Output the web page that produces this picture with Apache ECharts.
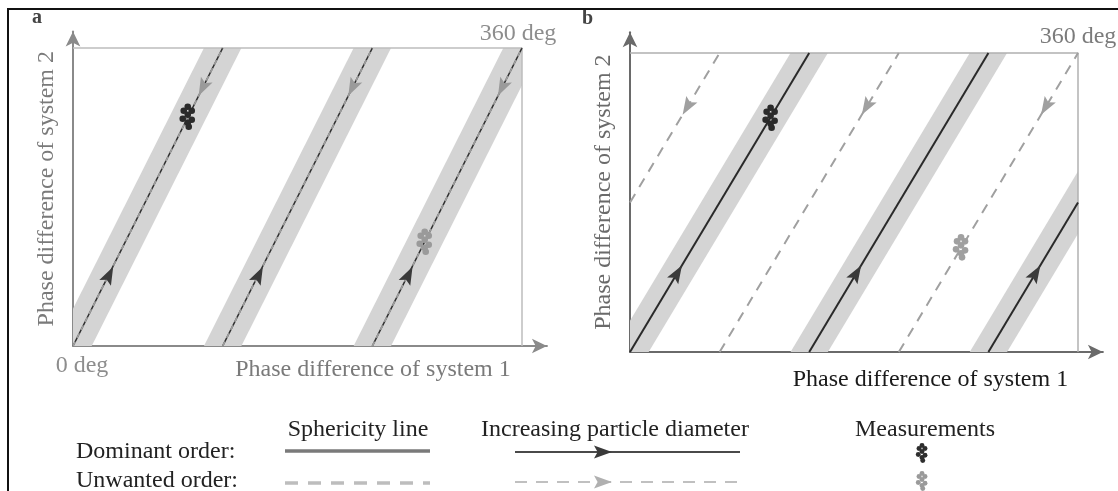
<!DOCTYPE html>
<html>
<head>
<meta charset="utf-8">
<title>Phase difference diagrams</title>
<script src="https://cdn.jsdelivr.net/npm/echarts@6.0.0/dist/echarts.min.js"></script>
<style>
  html, body { margin: 0; padding: 0; background: #ffffff; }
  #main { width: 1118px; height: 491px; }
</style>
</head>
<body>
<div id="main"></div>
<script>
// ---- data (phase differences in degrees) ----
// Panel a: dominant and unwanted orders run along the same sphericity lines
const aDominant = [[[0, 0], [120, 360]], [[120, 0], [240, 360]], [[240, 0], [360, 360]]];
const aUnwanted = [[[0, 0], [120, 360]], [[120, 0], [240, 360]], [[240, 0], [360, 360]]];
const aUpArrows = [[29, 86, 0], [149, 86, 1], [269, 86, 2]];      // x, y, line index
const aDownArrows = [[104, 312, 0], [224, 312, 1], [344, 312, 2]];
const aMeasDominant = [[92, 277]];
const aMeasUnwanted = [[282, 126]];

// Panel b: unwanted order shifted by half a period
const bDominant = [[[0, 0], [144, 360]], [[144, 0], [288, 360]], [[288, 0], [360, 180]]];
const bUnwanted = [[[0, 180], [72, 360]], [[72, 0], [216, 360]], [[216, 0], [360, 360]]];
const bUpArrows = [[38, 95, 0], [182, 95, 1], [326, 95, 2]];
const bDownArrows = [[46, 295, 0], [190, 295, 1], [334, 295, 2]];
const bMeasDominant = [[113, 282]];
const bMeasUnwanted = [[266, 126]];

const boxEdge = [[0, 360], [360, 360], [360, 0]];
const aTickLabels = [[0, 0, '0 deg'], [360, 360, '360 deg']];
const bTickLabels = [[360, 360, '360 deg']];

const panelNames = ['a', 'b'];
const xTitle = 'Phase difference of system 1';
const yTitle = 'Phase difference of system 2';
const legendRows = ['Dominant order:', 'Unwanted order:'];
const legendHeads = ['Sphericity line', 'Increasing particle diameter', 'Measurements'];

// ---- styling ----
const FONT = "'Liberation Serif', 'DejaVu Serif', serif";
const BAND = '#d4d4d4';
const BAND_HALF = 15;          // half width of the grey band, degrees along x
const CLUSTER = [[0, -10], [-4, -6], [4, -6], [0, -2], [-5, 2], [4, 3], [0, 6], [1, 10]];

// pixel box of each 0..360 panel
const boxA = { left: 73, bottom: 346, width: 449, height: 298 };
const boxB = { left: 630, bottom: 352, width: 448, height: 299 };
const axisMaxA = [380, 380];
const axisMaxB = [380, 385];

function gridFor(box, max) {
  return {
    left: box.left,
    top: box.bottom - box.height * max[1] / 360,
    width: box.width * max[0] / 360,
    height: box.height * max[1] / 360,
    containLabel: false
  };
}

function clipPoly(pts, r) {
  const planes = [[0, r.x0, 1], [0, r.x1, -1], [1, r.y0, 1], [1, r.y1, -1]];
  let out = pts;
  for (const [ax, v, s] of planes) {
    const inp = out; out = [];
    for (let i = 0; i < inp.length; i++) {
      const a = inp[i], b = inp[(i + 1) % inp.length];
      const ia = s * (a[ax] - v) >= 0, ib = s * (b[ax] - v) >= 0;
      if (ia) out.push(a);
      if (ia !== ib) {
        const t = (v - a[ax]) / (b[ax] - a[ax]);
        out.push([a[0] + t * (b[0] - a[0]), a[1] + t * (b[1] - a[1])]);
      }
    }
    if (!out.length) break;
  }
  return out;
}

function boxRect(api) {
  const p0 = api.coord([0, 360]), p1 = api.coord([360, 0]);
  return { x0: p0[0], y0: p0[1], x1: p1[0], y1: p1[1] };
}

// grey tolerance band around each dominant sphericity line
function bandSeries(gi, segs) {
  return {
    type: 'custom', xAxisIndex: gi, yAxisIndex: gi, z: 1, silent: true,
    data: segs.map(s => [s[0][0], s[0][1], s[1][0], s[1][1]]),
    encode: { x: [0, 2], y: [1, 3] },
    renderItem(params, api) {
      const x0 = api.value(0), y0 = api.value(1), x1 = api.value(2), y1 = api.value(3);
      const ex = (x1 - x0) * 0.4, ey = (y1 - y0) * 0.4;
      const a = [x0 - ex, y0 - ey], b = [x1 + ex, y1 + ey];
      const poly = [[a[0] - BAND_HALF, a[1]], [a[0] + BAND_HALF, a[1]],
                    [b[0] + BAND_HALF, b[1]], [b[0] - BAND_HALF, b[1]]].map(p => api.coord(p));
      const clipped = clipPoly(poly, boxRect(api));
      return { type: 'polygon', shape: { points: clipped }, style: { fill: BAND } };
    }
  };
}

function lineSeries(gi, segs, style, z) {
  return segs.map(s => ({
    type: 'line', xAxisIndex: gi, yAxisIndex: gi, z: z, silent: true,
    data: s, showSymbol: false, symbol: 'none', lineStyle: style, animation: false
  }));
}

function arrowShape(p, ux, uy, len, wid) {
  const nx = -uy, ny = ux;
  const tip = [p[0] + ux * len / 2, p[1] + uy * len / 2];
  const back = [p[0] - ux * len / 2, p[1] - uy * len / 2];
  const notch = [back[0] + ux * len * 0.2, back[1] + uy * len * 0.2];
  return [tip, [back[0] + nx * wid / 2, back[1] + ny * wid / 2], notch,
          [back[0] - nx * wid / 2, back[1] - ny * wid / 2]];
}

// arrow heads pointing along the line they sit on (dir = +1 upwards, -1 downwards)
function arrowSeries(gi, pts, segs, dir, color) {
  return {
    type: 'custom', xAxisIndex: gi, yAxisIndex: gi, z: 6, silent: true,
    data: pts, encode: { x: 0, y: 1 },
    renderItem(params, api) {
      const p = api.coord([api.value(0), api.value(1)]);
      const seg = segs[api.value(2)];
      const a = api.coord(seg[0]), b = api.coord(seg[1]);
      const L = Math.hypot(b[0] - a[0], b[1] - a[1]);
      const ux = dir * (b[0] - a[0]) / L, uy = dir * (b[1] - a[1]) / L;
      return { type: 'polygon', shape: { points: arrowShape(p, ux, uy, 18, 13) }, style: { fill: color } };
    }
  };
}

function clusterChildren(cx, cy, scale, color) {
  return CLUSTER.map(o => ({
    type: 'circle', shape: { cx: cx + o[0] * scale, cy: cy + o[1] * scale, r: 3.3 * scale },
    style: { fill: color }
  }));
}

function measSeries(gi, pts, color) {
  return {
    type: 'custom', xAxisIndex: gi, yAxisIndex: gi, z: 7, silent: true,
    data: pts, encode: { x: 0, y: 1 },
    renderItem(params, api) {
      const p = api.coord([api.value(0), api.value(1)]);
      return { type: 'group', children: clusterChildren(p[0], p[1], 1, color) };
    }
  };
}

function tickLabelSeries(gi, data, color, placements) {
  return {
    type: 'scatter', xAxisIndex: gi, yAxisIndex: gi, z: 8, silent: true,
    symbolSize: 0, data: data.map((d, i) => ({
      value: d,
      label: Object.assign({ show: true, formatter: d[2], color: color, fontFamily: FONT, fontSize: 24 }, placements[i])
    }))
  };
}

function axisPair(gi, max, axisColor, nameColors, namePads) {
  const common = {
    gridIndex: gi, type: 'value', min: 0,
    axisTick: { show: false }, axisLabel: { show: false }, splitLine: { show: false },
    axisLine: { show: true, onZero: false, symbol: ['none', 'arrow'], symbolSize: [11, 15],
                lineStyle: { color: axisColor, width: 2 } },
    nameLocation: 'middle'
  };
  return {
    x: Object.assign({}, common, {
      max: max[0], name: xTitle, nameGap: namePads.xGap,
      nameTextStyle: { fontFamily: FONT, fontSize: 24, color: nameColors[0], padding: [0, 0, 0, namePads.xShift] }
    }),
    y: Object.assign({}, common, {
      max: max[1], name: yTitle, nameGap: namePads.yGap,
      nameTextStyle: { fontFamily: FONT, fontSize: 24, color: nameColors[1], padding: namePads.yPad }
    })
  };
}

const axA = axisPair(0, axisMaxA, '#8a8a8a', ['#7a7a7a', '#7a7a7a'], { xGap: 12, xShift: 126, yGap: 14, yPad: [0, 0, 0, 0] });
const axB = axisPair(1, axisMaxB, '#6a6a6a', ['#1a1a1a', '#6a6a6a'], { xGap: 16, xShift: 128, yGap: 14, yPad: [0, 0, 0, 0] });

const series = [].concat(
  // panel a
  [bandSeries(0, aDominant)],
  lineSeries(0, aDominant, { color: '#2e2e2e', width: 1.6 }, 3),
  lineSeries(0, aUnwanted, { color: '#9c9c9c', width: 1.7, type: [5, 4] }, 4),
  lineSeries(0, [boxEdge], { color: '#bdbdbd', width: 1.5 }, 2),
  [arrowSeries(0, aUpArrows, aDominant, 1, '#3a3a3a'),
   arrowSeries(0, aDownArrows, aUnwanted, -1, '#9a9a9a'),
   measSeries(0, aMeasDominant, '#2a2a2a'),
   measSeries(0, aMeasUnwanted, '#9a9a9a'),
   tickLabelSeries(0, aTickLabels, '#707070', [
     { position: 'bottom', distance: 8, offset: [9, 0] },
     { position: 'top', distance: 2, offset: [-4, 0] }
   ])],
  // panel b
  [bandSeries(1, bDominant)],
  lineSeries(1, bDominant, { color: '#2a2a2a', width: 2 }, 3),
  lineSeries(1, bUnwanted, { color: '#a0a0a0', width: 2, type: [10, 8] }, 3),
  lineSeries(1, [boxEdge], { color: '#b0b0b0', width: 1.5 }, 2),
  [arrowSeries(1, bUpArrows, bDominant, 1, '#3a3a3a'),
   arrowSeries(1, bDownArrows, bUnwanted, -1, '#a0a0a0'),
   measSeries(1, bMeasDominant, '#2a2a2a'),
   measSeries(1, bMeasUnwanted, '#a0a0a0'),
   tickLabelSeries(1, bTickLabels, '#5a5a5a', [
     { position: 'top', distance: 4, offset: [0, 0] }
   ])]
);

// ---- legend below the panels ----
const legendColX = [358, 615, 925];
const legendY = [430, 453, 482];
const legend = [];
legendRows.forEach((t, i) => legend.push({
  type: 'text', left: 76, top: legendY[i + 1] - 13,
  style: { text: t, font: '24px ' + FONT, fill: '#222' }
}));
legendHeads.forEach((t, i) => legend.push({
  type: 'text', x: legendColX[i], y: legendY[0],
  style: { text: t, font: '24px ' + FONT, fill: '#222', align: 'center', verticalAlign: 'middle' }
}));
legend.push(
  { type: 'line', shape: { x1: 285, y1: 451, x2: 430, y2: 451 }, style: { stroke: '#7a7a7a', lineWidth: 3.5 } },
  { type: 'line', shape: { x1: 285, y1: 483, x2: 430, y2: 483 }, style: { stroke: '#bdbdbd', lineWidth: 3.5, lineDash: [13, 10] } },
  { type: 'line', shape: { x1: 515, y1: 452, x2: 740, y2: 452 }, style: { stroke: '#4a4a4a', lineWidth: 2.2 } },
  { type: 'polygon', shape: { points: arrowShape([603, 452], 1, 0, 18, 13) }, style: { fill: '#3a3a3a' } },
  { type: 'line', shape: { x1: 515, y1: 482, x2: 740, y2: 482 }, style: { stroke: '#c0c0c0', lineWidth: 2.2, lineDash: [12, 9] } },
  { type: 'polygon', shape: { points: arrowShape([603, 482], 1, 0, 18, 13) }, style: { fill: '#b0b0b0' } },
  { type: 'group', children: clusterChildren(922, 453, 0.75, '#2e2e2e') },
  { type: 'group', children: clusterChildren(922, 481, 0.75, '#9a9a9a') }
);

const option = {
  animation: false,
  backgroundColor: '#ffffff',
  grid: [gridFor(boxA, axisMaxA), gridFor(boxB, axisMaxB)],
  xAxis: [axA.x, axB.x],
  yAxis: [axA.y, axB.y],
  series: series,
  graphic: [
    { type: 'rect', shape: { x: 8, y: 9, width: 1200, height: 600 }, style: { fill: 'none', stroke: '#111', lineWidth: 2 }, z: 100 },
    { type: 'text', left: 32, top: 8, style: { text: panelNames[0], font: 'bold 20px ' + FONT, fill: '#444' } },
    { type: 'text', left: 582, top: 9, style: { text: panelNames[1], font: 'bold 20px ' + FONT, fill: '#444' } }
  ].concat(legend)
};

const chart = echarts.init(document.getElementById('main'), null, { renderer: 'canvas' });
chart.setOption(option);
</script>
</body>
</html>
